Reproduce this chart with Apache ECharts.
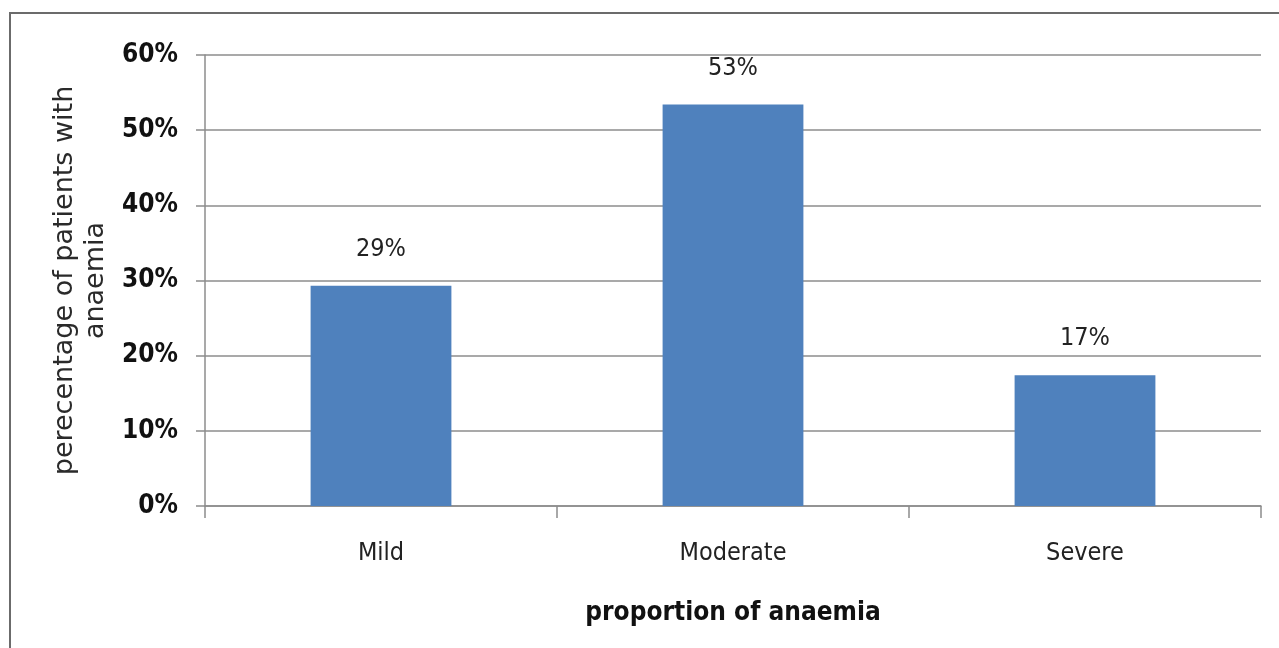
<!DOCTYPE html>
<html>
<head>
<meta charset="utf-8">
<script src="https://cdn.jsdelivr.net/npm/echarts@6/dist/echarts.min.js"></script>
<style>
    html, body { margin: 0; padding: 0; background: #fff; }
</style>
</head>
<body>
<div id="chart" style="width:1279px;height:648px;"></div>
<script type="text/javascript">
    // data
    var categories = ['Mild', 'Moderate', 'Severe'];
    var values = [29.3, 53.4, 17.4];
    var yTicks = [0, 10, 20, 30, 40, 50, 60];

    var narrow = "'Liberation Sans Narrow', 'DejaVu Sans Condensed', sans-serif";

    var myChart = echarts.init(document.getElementById('chart'));
    var option = {
        animation: false,
        backgroundColor: '#ffffff',
        graphic: [{
            type: 'polyline',
            shape: { points: [[10, 700], [10, 13], [1300, 13]] },
            style: { stroke: '#6b6b6b', lineWidth: 2, fill: null }
        }],
        grid: { left: 205, right: 18, top: 55, bottom: 142, containLabel: false, outerBoundsMode: 'none' },
        xAxis: {
            type: 'category',
            data: categories,
            name: 'proportion of anaemia',
            nameLocation: 'middle',
            nameGap: 94,
            nameTextStyle: { fontFamily: narrow, fontSize: 26, fontWeight: 'bold', color: '#111' },
            axisLine: { lineStyle: { color: '#8c8c8c', width: 1.5 } },
            axisTick: { show: true, length: 12, lineStyle: { color: '#8c8c8c', width: 1.5 } },
            axisLabel: { fontFamily: narrow, fontSize: 25, color: '#222', margin: 35 }
        },
        yAxis: {
            type: 'value',
            min: yTicks[0],
            max: yTicks[yTicks.length - 1],
            interval: 10,
            name: 'perecentage of patients with\nanaemia',
            nameLocation: 'middle',
            nameGap: 82,
            nameTextStyle: { fontFamily: "'DejaVu Sans', sans-serif", fontSize: 27, color: '#2a2a2a', lineHeight: 31 },
            axisLine: { show: true, lineStyle: { color: '#8c8c8c', width: 1.5 } },
            axisTick: { show: true, length: 9, lineStyle: { color: '#8c8c8c', width: 1.5 } },
            splitLine: { lineStyle: { color: '#8c8c8c', width: 1.5 } },
            axisLabel: {
                fontFamily: narrow, fontSize: 26, fontWeight: 'bold', color: '#111', margin: 27,
                formatter: function (v) { return v + '%'; }
            }
        },
        series: [{
            type: 'bar',
            data: values,
            barWidth: '40%',
            itemStyle: { color: '#4f81bd' },
            label: {
                show: true,
                position: 'top',
                distance: 24,
                fontFamily: narrow,
                fontSize: 25,
                color: '#222',
                formatter: function (p) { return Math.round(p.value) + '%'; }
            }
        }]
    };
    myChart.setOption(option);
</script>
</body>
</html>
